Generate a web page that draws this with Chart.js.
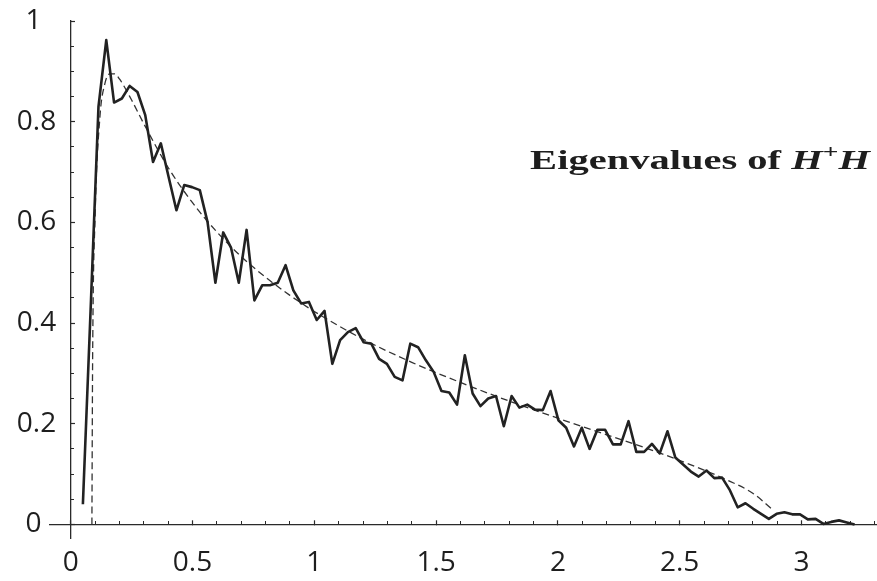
<!DOCTYPE html>
<html>
<head>
<meta charset="utf-8">
<script src="https://cdn.jsdelivr.net/npm/chart.js@4.4.0/dist/chart.umd.min.js"></script>
<style>
  html, body { margin: 0; padding: 0; background: #fff; }
  #wrap { width: 877px; height: 581px; position: relative; }
</style>
</head>
<body>
<div id="wrap"><canvas id="chart"></canvas></div>
<script>
// histogram of the eigenvalues (equal bins)
const binStart = 0.05;
const binWidth = 0.032;
const histValues = [
  0.04, 0.43, 0.83, 0.962, 0.838, 0.846, 0.871, 0.859, 0.813, 0.72,
  0.757, 0.69, 0.624, 0.674, 0.67, 0.664, 0.60, 0.48, 0.58, 0.55,
  0.48, 0.585, 0.445, 0.475, 0.475, 0.48, 0.515, 0.465, 0.439, 0.442,
  0.406, 0.424, 0.319, 0.366, 0.382, 0.39, 0.362, 0.359, 0.329, 0.319,
  0.293, 0.286, 0.359, 0.352, 0.326, 0.303, 0.265, 0.262, 0.238, 0.336,
  0.26, 0.235, 0.25, 0.255, 0.195, 0.255, 0.232, 0.238, 0.228, 0.227,
  0.265, 0.207, 0.192, 0.155, 0.192, 0.15, 0.188, 0.188, 0.159, 0.159,
  0.205, 0.144, 0.144, 0.16, 0.141, 0.185, 0.133, 0.119, 0.105, 0.095,
  0.107, 0.092, 0.093, 0.068, 0.034, 0.042, 0.031, 0.021, 0.011, 0.021,
  0.024, 0.02, 0.02, 0.01, 0.011, 0.001, 0.005, 0.008, 0.004, 0.0
];

// theoretical density (dashed curve)
const curveX = [0.087, 0.09, 0.1, 0.12, 0.14, 0.16, 0.18, 0.2, 0.25, 0.3, 0.4, 0.5, 0.6, 0.7,
                0.8, 0.9, 1.0, 1.2, 1.4, 1.6, 1.8, 2.0, 2.2, 2.4, 2.6, 2.7, 2.8, 2.88];
const curveY = [0, 0.33, 0.61, 0.81, 0.875, 0.895, 0.895, 0.885, 0.843, 0.796, 0.709, 0.639, 0.581, 0.532,
                0.491, 0.455, 0.423, 0.368, 0.322, 0.282, 0.245, 0.211, 0.178, 0.145, 0.108, 0.087, 0.062, 0.03];

const xMajorStep = 0.5, xMinorStep = 0.1;
const yMajorStep = 0.2, yMinorStep = 0.05;

const X_MIN = -0.085, X_MAX = 3.31;
const Y_MIN = -0.027, Y_MAX = 1.0;

const axisColor = '#2a2a2a';
const textColor = '#1e1e1e';
const tickFont = { family: '"Open Sans", sans-serif', size: 28 };

const histPoints = histValues.map((v, i) => ({ x: binStart + i * binWidth, y: v }));
const curvePoints = curveX.map((x, i) => ({ x, y: curveY[i] }));

function fmt(v) {
    return String(Number(v.toFixed(2)));
}

// y labels sit left of the axis; trailing spaces keep them roughly centred in their column
function yLabel(v) {
    const s = fmt(v);
    return s.includes('.') ? s + '  ' : s + '    ';
}

// label "Eigenvalues of H+H", placed in data coordinates
const labelLeft = 1.886, labelRight = 3.281, labelBase = 0.706;

const eigenLabel = {
    id: 'eigenLabel',
    afterDraw(chart) {
        const { ctx, scales } = chart;
        const x0 = scales.x.getPixelForValue(labelLeft);
        const x1 = scales.x.getPixelForValue(labelRight);
        const yb = scales.y.getPixelForValue(labelBase);
        const fam = '"Liberation Serif", serif';
        const parts = [
            { t: 'Eigenvalues of ', f: `bold 28px ${fam}`, dy: 0 },
            { t: 'H', f: `italic bold 28px ${fam}`, dy: 0 },
            { t: '+', f: `bold 19px ${fam}`, dy: -11 },
            { t: 'H', f: `italic bold 28px ${fam}`, dy: 0 },
        ];
        ctx.save();
        let w = 0;
        parts.forEach(p => { ctx.font = p.f; p.w = ctx.measureText(p.t).width; w += p.w; });
        ctx.translate(x0, yb);
        ctx.scale((x1 - x0) / w, 1);
        ctx.fillStyle = textColor;
        ctx.textBaseline = 'alphabetic';
        let cx = 0;
        parts.forEach(p => { ctx.font = p.f; ctx.fillText(p.t, cx, p.dy); cx += p.w; });
        ctx.restore();
    }
};

new Chart(document.getElementById('chart'), {
    type: 'scatter',
    data: {
        datasets: [
            {
                label: 'histogram',
                data: histPoints,
                showLine: true,
                borderColor: '#222',
                borderWidth: 2.6,
                pointRadius: 0,
                tension: 0,
                borderJoinStyle: 'round',
            },
            {
                label: 'density',
                data: curvePoints,
                showLine: true,
                borderColor: '#333',
                borderWidth: 1.3,
                borderDash: [7, 4],
                pointRadius: 0,
                cubicInterpolationMode: 'monotone',
            },
        ]
    },
    options: {
        responsive: true,
        maintainAspectRatio: false,
        animation: false,
        devicePixelRatio: 1,
        layout: { padding: { left: 50, right: 0, top: 21, bottom: 43 } },
        plugins: { legend: { display: false }, tooltip: { enabled: false } },
        scales: {
            x: {
                type: 'linear', min: X_MIN, max: X_MAX, position: { y: 0 },
                border: { display: true, color: axisColor, width: 1.3 },
                grid: { drawOnChartArea: false, drawTicks: true, tickLength: -5, tickColor: axisColor, tickWidth: 1.2 },
                ticks: { stepSize: xMajorStep, includeBounds: false, autoSkip: false, maxRotation: 0,
                         padding: 27, color: textColor, font: tickFont, callback: v => fmt(v) },
            },
            xMinor: {
                type: 'linear', axis: 'x', min: X_MIN, max: X_MAX, position: { y: 0 },
                border: { display: false },
                grid: { drawOnChartArea: false, drawTicks: true, tickLength: -3, tickColor: axisColor, tickWidth: 1 },
                ticks: { display: false, stepSize: xMinorStep, includeBounds: false, maxTicksLimit: 100 },
            },
            y: {
                type: 'linear', min: Y_MIN, max: Y_MAX, position: { x: 0 },
                border: { display: true, color: axisColor, width: 1.3 },
                grid: { drawOnChartArea: false, drawTicks: true, tickLength: -5, tickColor: axisColor, tickWidth: 1.2 },
                ticks: { stepSize: yMajorStep, includeBounds: false, autoSkip: false,
                         color: textColor, font: tickFont, callback: v => yLabel(v) },
            },
            yMinor: {
                type: 'linear', axis: 'y', min: Y_MIN, max: Y_MAX, position: { x: 0 },
                border: { display: false },
                grid: { drawOnChartArea: false, drawTicks: true, tickLength: -3, tickColor: axisColor, tickWidth: 1 },
                ticks: { display: false, stepSize: yMinorStep, includeBounds: false, maxTicksLimit: 100 },
            },
        }
    },
    plugins: [eigenLabel]
});
</script>
</body>
</html>
